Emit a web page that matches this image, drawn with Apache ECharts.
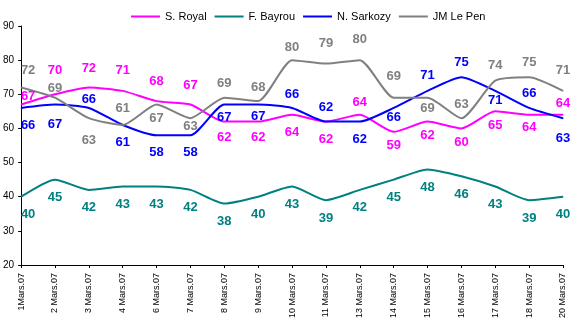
<!DOCTYPE html>
<html>
<head>
<meta charset="utf-8">
<script src="https://cdn.jsdelivr.net/npm/echarts@6/dist/echarts.min.js"></script>
<style>
  html, body { margin: 0; padding: 0; background: #fff; }
  #chart { width: 576px; height: 329px; }
</style>
</head>
<body>
<div id="chart"></div>
<script>
// Poll dates (March 2007)
const dates = ['1Mars.07', '2 Mars.07', '3 Mars.07', '4 Mars.07', '6 Mars.07', '7 Mars.07',
  '8 Mars.07', '9 Mars.07', '10 Mars.07', '11 Mars.07', '13 Mars.07', '14 Mars.07',
  '15 Mars.07', '16 Mars.07', '17 Mars.07', '18 Mars.07', '20 Mars.07'];

// Scores per candidate
const royal   = [67, 70, 72, 71, 68, 67, 62, 62, 64, 62, 64, 59, 62, 60, 65, 64, 64];
const bayrou  = [40, 45, 42, 43, 43, 42, 38, 40, 43, 39, 42, 45, 48, 46, 43, 39, 40];
const sarkozy = [66, 67, 66, 61, 58, 58, 67, 67, 66, 62, 62, 66, 71, 75, 71, 66, 63];
const lePen   = [72, 69, 63, 61, 67, 63, 69, 68, 80, 79, 80, 69, 69, 63, 74, 75, 71];

// Value axis range
const yMin = 20, yMax = 90, yStep = 10;

// Vertical placement of each value label, in px from its point (negative = above)
const royalLabelDy   = [-8, -24, -19, -20, -20, -19, 16, 16, 18, 18, -12, 14, 14, 14, 14, 13, -11];
const bayrouLabelDy  = dates.map(() => 18);
const sarkozyLabelDy = [17, 20, -9, 17, 17, 17, 13, 12, -14, -14, 18, 9, -15, -15, 10, -15, 20];
const lePenLabelDy   = [-17, -9, 22, -17, 14, 8, -14, -14, -13, -20, -21, -21, 11, -14, -15, -15, -20];

const FONT = "'Liberation Sans', Arial, sans-serif";

function makeSeries(name, values, color, dys) {
  return {
    name: name,
    type: 'line',
    smooth: 0.2,
    symbol: 'circle',
    symbolSize: 1,
    lineStyle: { color: color, width: 2 },
    itemStyle: { color: color },
    emphasis: { disabled: true },
    label: {
      show: true,
      position: 'inside',
      color: color,
      fontFamily: FONT,
      fontWeight: 'bold',
      fontSize: 13
    },
    data: values.map((v, i) => ({
      value: v,
      label: { offset: [i === 0 ? 7 : 0, dys[i]] }
    }))
  };
}

const chart = echarts.init(document.getElementById('chart'));
chart.setOption({
  animation: false,
  backgroundColor: '#fff',
  textStyle: { fontFamily: FONT },
  legend: {
    left: 126,
    top: 6,
    icon: 'rect',
    itemWidth: 29,
    itemHeight: 2,
    itemGap: 8,
    textStyle: { fontSize: 11, color: '#000', fontFamily: FONT },
    data: ['S. Royal', 'F. Bayrou', 'N. Sarkozy', 'JM Le Pen']
  },
  grid: { left: 21, right: 13, top: 26, bottom: 64, containLabel: false },
  xAxis: {
    type: 'category',
    data: dates,
    boundaryGap: false,
    axisLine: { lineStyle: { color: '#000', width: 1 } },
    axisTick: { show: true, length: 3, interval: 0, lineStyle: { color: '#000' } },
    axisLabel: { rotate: 90, interval: 0, fontSize: 9, color: '#000', margin: 8, fontFamily: FONT },
    splitLine: { show: false }
  },
  yAxis: {
    type: 'value',
    min: yMin,
    max: yMax,
    interval: yStep,
    axisLine: { show: true, lineStyle: { color: '#000', width: 1 } },
    axisTick: { show: true, length: 3, lineStyle: { color: '#000' } },
    axisLabel: { fontSize: 10, color: '#000', margin: 7, fontFamily: FONT },
    splitLine: { show: false }
  },
  series: [
    makeSeries('S. Royal', royal, '#FF00FF', royalLabelDy),
    makeSeries('F. Bayrou', bayrou, '#008080', bayrouLabelDy),
    makeSeries('N. Sarkozy', sarkozy, '#0000FF', sarkozyLabelDy),
    makeSeries('JM Le Pen', lePen, '#808080', lePenLabelDy)
  ]
});
</script>
</body>
</html>
